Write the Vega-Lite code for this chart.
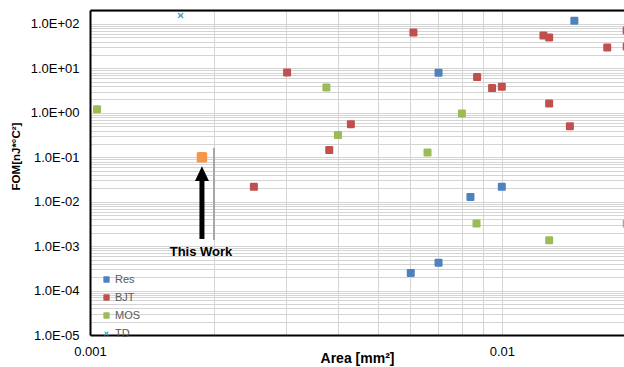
{
  "$schema": "https://vega.github.io/schema/vega-lite/v6.json",
  "width": 534,
  "height": 325,
  "autosize": {"type": "none"},
  "padding": {"left": 90, "top": 10, "right": 0, "bottom": 32},
  "background": "white",
  "config": {"view": {"stroke": null}, "font": "Liberation Sans"},
  "datasets": {
    "points": [
      {"area": 0.0150, "fom": 118, "type": "Res"},
      {"area": 0.00702, "fom": 7.96, "type": "Res"},
      {"area": 0.01, "fom": 0.0216, "type": "Res"},
      {"area": 0.00839, "fom": 0.0128, "type": "Res"},
      {"area": 0.00702, "fom": 0.000425, "type": "Res"},
      {"area": 0.00601, "fom": 0.000249, "type": "Res"},
      {"area": 0.0061, "fom": 64, "type": "BJT"},
      {"area": 0.00301, "fom": 8.1, "type": "BJT"},
      {"area": 0.0043, "fom": 0.556, "type": "BJT"},
      {"area": 0.00381, "fom": 0.145, "type": "BJT"},
      {"area": 0.01262, "fom": 55, "type": "BJT"},
      {"area": 0.01303, "fom": 49.7, "type": "BJT"},
      {"area": 0.0201, "fom": 71, "type": "BJT"},
      {"area": 0.01803, "fom": 29.6, "type": "BJT"},
      {"area": 0.0201, "fom": 31, "type": "BJT"},
      {"area": 0.00871, "fom": 6.37, "type": "BJT"},
      {"area": 0.00947, "fom": 3.6, "type": "BJT"},
      {"area": 0.01, "fom": 3.86, "type": "BJT"},
      {"area": 0.01303, "fom": 1.62, "type": "BJT"},
      {"area": 0.01463, "fom": 0.5, "type": "BJT"},
      {"area": 0.0025, "fom": 0.0216, "type": "BJT"},
      {"area": 0.00104, "fom": 1.21, "type": "MOS"},
      {"area": 0.00375, "fom": 3.7, "type": "MOS"},
      {"area": 0.0040, "fom": 0.315, "type": "MOS"},
      {"area": 0.0080, "fom": 0.964, "type": "MOS"},
      {"area": 0.0066, "fom": 0.128, "type": "MOS"},
      {"area": 0.00868, "fom": 0.00321, "type": "MOS"},
      {"area": 0.0201, "fom": 0.00321, "type": "MOS"},
      {"area": 0.01303, "fom": 0.00136, "type": "MOS"},
      {"area": 0.00166, "fom": 155, "type": "TD"}
    ],
    "thiswork": [{"area": 0.00187, "fom": 0.1}],
    "arrow": [{"area": 0.00187, "fom": 0.00145, "fom2": 0.0342}],
    "arrowhead": [{"area": 0.00187, "fom": 0.0421}],
    "marker": [{"area": 0.002, "fom": 0.00138, "fom2": 0.163}],
    "label": [{"area": 0.00186, "fom": 0.00075, "text": "This Work"}]
  },
  "layer": [
    {
      "data": {"name": "points"},
      "mark": {"type": "point", "filled": true, "opacity": 1, "size": 64, "clip": true},
      "encoding": {
        "x": {
          "field": "area", "type": "quantitative",
          "scale": {"type": "log", "domain": [0.001, 0.0198], "nice": false},
          "axis": {
            "orient": "bottom",
            "values": [0.001, 0.002, 0.003, 0.004, 0.005, 0.006, 0.007, 0.008, 0.009, 0.01, 0.02],
            "labelExpr": "datum.value == 0.001 ? '0.001' : (datum.value == 0.01 ? '0.01' : '')",
            "grid": true, "gridColor": "#d4d4d4", "gridWidth": 1,
            "ticks": false, "domainColor": "black", "domainWidth": 2,
            "labelFont": "Liberation Sans", "labelFontSize": 13, "labelColor": "black",
            "labelPadding": 10, "labelOverlap": false, "labelFlush": false,
            "title": "Area [mm²]", "titleFontSize": 14, "titleFontWeight": "bold", "titleColor": "black",
            "titleY": 23, "titleBaseline": "middle"
          }
        },
        "y": {
          "field": "fom", "type": "quantitative",
          "scale": {"type": "log", "domain": [0.00001, 206], "nice": false},
          "axis": {
            "values": [0.00001, 0.00002, 0.00003, 0.00004, 0.00005, 0.00006, 0.00007, 0.00008, 0.00009,
                       0.0001, 0.0002, 0.0003, 0.0004, 0.0005, 0.0006, 0.0007, 0.0008, 0.0009,
                       0.001, 0.002, 0.003, 0.004, 0.005, 0.006, 0.007, 0.008, 0.009,
                       0.01, 0.02, 0.03, 0.04, 0.05, 0.06, 0.07, 0.08, 0.09,
                       0.1, 0.2, 0.3, 0.4, 0.5, 0.6, 0.7, 0.8, 0.9,
                       1, 2, 3, 4, 5, 6, 7, 8, 9,
                       10, 20, 30, 40, 50, 60, 70, 80, 90,
                       100, 200],
            "labelExpr": "abs(log(datum.value)/LN10 - round(log(datum.value)/LN10)) < 0.001 ? '1.0E' + (round(log(datum.value)/LN10) < 0 ? '-' : '+') + '0' + abs(round(log(datum.value)/LN10)) : ''",
            "grid": true, "gridColor": "#d4d4d4", "gridWidth": 1,
            "ticks": false, "domainColor": "black", "domainWidth": 2,
            "labelFont": "Liberation Sans", "labelFontSize": 13, "labelColor": "black",
            "labelPadding": 11, "labelOverlap": false, "labelFlush": false,
            "title": "FOM[nJ*°C²]", "titleFontSize": 11.5, "titleFontWeight": "bold", "titleColor": "black",
            "titleX": -74, "titleY": 146, "titleAlign": "center", "titleBaseline": "middle", "titleAngle": -90
          }
        },
        "color": {
          "field": "type", "type": "nominal",
          "scale": {"domain": ["Res", "BJT", "MOS", "TD"], "range": ["#4f81bd", "#c0504d", "#9bbb59", "#4bacc6"]},
          "legend": {
            "orient": "none", "legendX": 11, "legendY": 264, "title": null,
            "symbolSize": 40, "labelFontSize": 11, "labelColor": "#595959", "labelFont": "Liberation Sans",
            "rowPadding": 6, "labelOffset": 3
          }
        },
        "shape": {
          "field": "type", "type": "nominal",
          "scale": {
            "domain": ["Res", "BJT", "MOS", "TD"],
            "range": [
              "M-0.7,-1L0.7,-1Q1,-1 1,-0.7L1,0.7Q1,1 0.7,1L-0.7,1Q-1,1 -1,0.7L-1,-0.7Q-1,-1 -0.7,-1Z",
              "M-0.7,-1L0.7,-1Q1,-1 1,-0.7L1,0.7Q1,1 0.7,1L-0.7,1Q-1,1 -1,0.7L-1,-0.7Q-1,-1 -0.7,-1Z",
              "M-0.7,-1L0.7,-1Q1,-1 1,-0.7L1,0.7Q1,1 0.7,1L-0.7,1Q-1,1 -1,0.7L-1,-0.7Q-1,-1 -0.7,-1Z",
              "M-0.75,-0.5L-0.5,-0.75L0.75,0.5L0.5,0.75Z M0.5,-0.75L0.75,-0.5L-0.5,0.75L-0.75,0.5Z M-0.45,-0.12L0.45,-0.12L0.45,0.12L-0.45,0.12Z"
            ]
          }
        }
      }
    },
    {
      "data": {"name": "marker"},
      "mark": {"type": "rule", "color": "#a6a6a6", "strokeWidth": 2},
      "encoding": {
        "x": {"field": "area", "type": "quantitative", "axis": null},
        "y": {"field": "fom", "type": "quantitative"},
        "y2": {"field": "fom2"}
      }
    },
    {
      "data": {"name": "arrow"},
      "mark": {"type": "rule", "color": "black", "strokeWidth": 5},
      "encoding": {
        "x": {"field": "area", "type": "quantitative", "axis": null},
        "y": {"field": "fom", "type": "quantitative"},
        "y2": {"field": "fom2"}
      }
    },
    {
      "data": {"name": "arrowhead"},
      "mark": {"type": "point", "filled": true, "opacity": 1, "color": "black", "size": 196,
               "shape": "M0,-1.1L1,1L-1,1Z"},
      "encoding": {
        "x": {"field": "area", "type": "quantitative", "axis": null},
        "y": {"field": "fom", "type": "quantitative"}
      }
    },
    {
      "data": {"name": "thiswork"},
      "mark": {"type": "point", "filled": true, "opacity": 1, "color": "#f79646", "size": 110,
               "shape": "M-0.7,-1L0.7,-1Q1,-1 1,-0.7L1,0.7Q1,1 0.7,1L-0.7,1Q-1,1 -1,0.7L-1,-0.7Q-1,-1 -0.7,-1Z"},
      "encoding": {
        "x": {"field": "area", "type": "quantitative",
              "axis": {"orient": "top", "labels": false, "ticks": false, "grid": false, "title": null,
                       "domainColor": "black", "domainWidth": 2}},
        "y": {"field": "fom", "type": "quantitative"}
      }
    },
    {
      "data": {"name": "label"},
      "mark": {"type": "text", "font": "Liberation Sans", "fontSize": 13, "fontWeight": "bold",
               "color": "black", "align": "center", "baseline": "middle"},
      "encoding": {
        "x": {"field": "area", "type": "quantitative", "axis": null},
        "y": {"field": "fom", "type": "quantitative"},
        "text": {"field": "text"}
      }
    }
  ],
  "resolve": {"axis": {"x": "independent"}}
}
